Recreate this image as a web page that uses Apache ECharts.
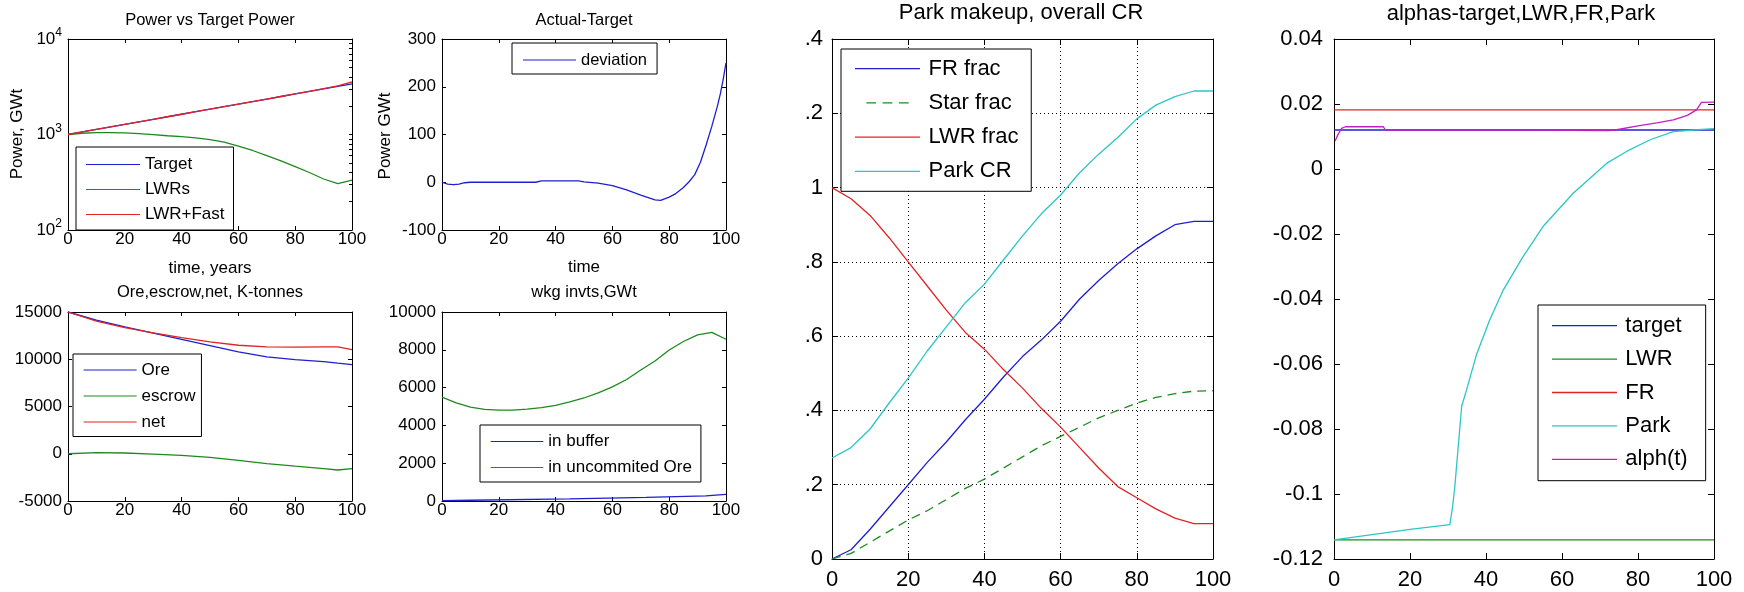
<!DOCTYPE html>
<html><head><meta charset="utf-8">
<script src="https://cdn.jsdelivr.net/npm/echarts@6/dist/echarts.min.js"></script>
<style>html,body{margin:0;padding:0;background:#fff;}#c{width:1744px;height:592px;}</style>
</head><body><div id="c"></div><script>
// ---------- DATA ----------
// Panel 1: Power vs Target Power (log scale)
const powerTime = [0,5,10,15,20,25,30,35,40,45,50,55,60,65,70,75,80,85,90,95,100];
const powerTarget = [1000,1063,1130,1201,1277,1357,1443,1534,1630,1733,1842,1958,2082,2213,2352,2500,2658,2825,3003,3192,3393];
const powerLWRs = [1000,1030,1045,1048,1040,1020,995,970,950,920,885,830,755,680,600,530,462,400,342,306,332];
const powerLWRFast = [1000,1063,1130,1201,1277,1357,1443,1534,1630,1733,1842,1958,2082,2213,2352,2500,2658,2830,3015,3230,3560];
const powerLogTicks = [100,1000,10000];
const powerMinorTicks = [100,200,300,400,500,600,700,800,900,1000,2000,3000,4000,5000,6000,7000,8000,9000,10000];
// Panel 2: Actual-Target
const devTime = [0,2,4,6,8,10,15,20,25,30,33,35,40,45,48,50,55,60,65,70,75,77,80,82,85,87,89,91,93,95,97,98,99,100];
const devValue = [0,-4,-5,-4,-1,0,0,0,0,0,0,3,3,3,3,1,-2,-7,-16,-27,-37,-38,-31,-25,-11,1,16,42,78,117,160,185,215,250];
// Panel 3: Ore, escrow, net
const oreTime = [0,10,20,30,40,50,60,70,80,90,95,100];
const oreValue = [15000,14150,13420,12760,12100,11450,10780,10250,9970,9740,9580,9440];
const escrowValue = [0,120,80,-40,-180,-380,-700,-1050,-1320,-1580,-1720,-1580];
const netValue = [15000,14030,13340,12800,12280,11830,11480,11300,11290,11320,11300,11020];
// Panel 4: wkg invts
const wkgTime = [0,5,10,15,20,25,30,35,40,45,50,55,60,65,70,75,80,85,90,95,100];
const uncommitted = [5500,5190,4970,4850,4810,4810,4860,4940,5060,5240,5450,5720,6040,6430,6930,7410,7990,8440,8790,8920,8560];
const bufferTime = [0,9.9,10,44.9,45,71.9,72,92.9,93,100];
const bufferValue = [20,40,100,110,180,190,260,270,340,350];
// Panel 5: Park makeup, overall CR
const parkTime = [0,5,10,15,20,25,30,35,40,45,50,55,60,65,70,75,80,85,90,95,100];
const frFrac = [0,0.025,0.08,0.14,0.2,0.26,0.315,0.375,0.43,0.49,0.545,0.59,0.64,0.7,0.75,0.795,0.835,0.87,0.9,0.909,0.909];
const starFrac = [0,0.015,0.045,0.075,0.105,0.13,0.16,0.19,0.215,0.245,0.275,0.305,0.33,0.355,0.38,0.4,0.42,0.435,0.445,0.452,0.453];
const lwrFrac = [1.0,0.97,0.925,0.865,0.8,0.735,0.67,0.61,0.565,0.51,0.46,0.405,0.355,0.3,0.245,0.195,0.165,0.135,0.11,0.095,0.095];
const parkCR = [0.272,0.3,0.35,0.42,0.487,0.56,0.625,0.69,0.74,0.805,0.87,0.93,0.98,1.04,1.09,1.135,1.185,1.222,1.245,1.26,1.26];
const parkTickLabels = ['0','.2','.4','.6','.8','1','.2','.4'];
// Panel 6: alphas-target, LWR, FR, Park
const alphaTime = [0,100];
const alphaTarget = [0.012,0.012];
const alphaLWR = [-0.1141,-0.1141];
const alphaFR = [0.0182,0.0182];
const alphaParkTime = [0,10,20,30.5,31.2,31.8,32.7,33.6,34.9,37.5,41,44.6,49.8,55,63,71.8,77,83.2,89.3,94.6,100];
const alphaPark = [-0.1141,-0.1125,-0.1109,-0.1094,-0.104,-0.0977,-0.0853,-0.073,-0.0679,-0.0571,-0.0464,-0.0371,-0.0269,-0.0177,-0.0074,0.0018,0.0054,0.009,0.0115,0.012,0.0124];
const alphTTime = [0.3,1,2,3,13,13.5,53,53.5,72,74,80,85,89.3,93,95.4,96.7,100];
const alphT = [0.0086,0.0105,0.0125,0.013,0.013,0.012,0.012,0.0118,0.0118,0.012,0.0133,0.0142,0.0151,0.0165,0.0182,0.0205,0.0206];
const alphaTickLabels = ['-0.12','-0.1','-0.08','-0.06','-0.04','-0.02','0','0.02','0.04'];

// ---------- STYLE / BUILD ----------
const FF = '"Liberation Sans", Arial, Helvetica, sans-serif';
const COL = {blue:'#1f1fd0', green:'#1e8a1e', red:'#e02424', cyan:'#2cc6c6', magenta:'#c020c0'};
const pairs = (xs, ys) => xs.map((x, i) => [x, ys[i]]);

const grids = [
  {left:68, top:39, width:284, height:191},
  {left:442, top:39, width:284, height:191},
  {left:68, top:312, width:284, height:189},
  {left:442, top:312, width:284, height:189},
  {left:832, top:39, width:381, height:520},
  {left:1334, top:39, width:380, height:520}
];
const fsz = [17,17,17,17,22,22];
const tickLen = [4,4,4,4,6,6];
const xMargin = [1,1,1,1,10,10];
const yMargin = [6,6,6,6,9,11];
const plain = v => String(v);

const xAxes = [], yAxes = [];
const line = {show:true, onZero:false, lineStyle:{color:'#000', width:1}};
grids.forEach((g, i) => {
  const dotted = i === 4;
  xAxes.push({type:'value', gridIndex:i, min:0, max:100, interval:20, position:'bottom',
    axisLine:line, axisTick:{inside:true, length:tickLen[i], lineStyle:{color:'#000'}},
    axisLabel:{color:'#000', fontSize:fsz[i], fontFamily:FF, margin:xMargin[i], hideOverlap:false, formatter:plain},
    splitLine:{show:dotted, lineStyle:{color:'#000', type:[1,3], width:1}}});
  xAxes.push({type:'value', gridIndex:i, min:0, max:100, interval:20, position:'top',
    axisLine:line, axisTick:{inside:true, length:tickLen[i], lineStyle:{color:'#000'}},
    axisLabel:{show:false}, splitLine:{show:false}});
});
function yPair(i, cfg, labelCfg, splitShow) {
  yAxes.push(Object.assign({type:'value', gridIndex:i, position:'left', axisLine:line,
    axisTick:{inside:true, length:tickLen[i], lineStyle:{color:'#000'}},
    axisLabel:Object.assign({color:'#000', fontSize:fsz[i], fontFamily:FF, margin:yMargin[i], hideOverlap:false, formatter:plain}, labelCfg),
    splitLine:{show:!!splitShow, lineStyle:{color:'#000', type:[1,3], width:1}}}, cfg));
  yAxes.push(Object.assign({type:'value', gridIndex:i, position:'right', axisLine:line,
    axisTick:{inside:true, length:tickLen[i], lineStyle:{color:'#000'}},
    axisLabel:{show:false}, splitLine:{show:false}}, cfg));
}
// panel 1 log axis
yAxes.push({type:'log', logBase:10, gridIndex:0, min:100, max:10000, position:'left', axisLine:line,
  axisTick:{inside:true, length:4, lineStyle:{color:'#000'}, customValues:powerLogTicks},
  axisLabel:{color:'#000', fontFamily:FF, margin:6, customValues:powerLogTicks,
    formatter: v => '{b|10}{s|' + Math.round(Math.log10(v)) + '}',
    rich:{b:{fontSize:17, fontFamily:FF, color:'#000'}, s:{fontSize:12, fontFamily:FF, color:'#000', padding:[0,0,12,0]}}},
  splitLine:{show:false}});
yAxes.push({type:'log', logBase:10, gridIndex:0, min:100, max:10000, position:'right', axisLine:line,
  axisTick:{inside:true, length:3, lineStyle:{color:'#000'}, customValues:powerMinorTicks},
  axisLabel:{show:false}, splitLine:{show:false}});
yPair(1, {min:-100, max:300, interval:100}, {});
yPair(2, {min:-5000, max:15000, interval:5000}, {});
yPair(3, {min:0, max:10000, interval:2000}, {});
yPair(4, {min:0, max:1.4, interval:0.2}, {formatter: v => parkTickLabels[Math.round(v / 0.2)]}, true);
yPair(5, {min:-0.12, max:0.04, interval:0.02}, {formatter: v => alphaTickLabels[Math.round((v + 0.12) / 0.02)]});

const series = [];
function addLine(gi, name, xs, ys, color, dashed) {
  series.push({type:'line', name, xAxisIndex:2*gi, yAxisIndex:2*gi, data:pairs(xs, ys),
    symbol:'none', showSymbol:false, animation:false, silent:true,
    lineStyle:{color, width:1.3, type: dashed ? [9,6] : 'solid'}, itemStyle:{color}});
}
addLine(0, 'Target', powerTime, powerTarget, COL.blue);
addLine(0, 'LWRs', powerTime, powerLWRs, COL.green);
addLine(0, 'LWR+Fast', powerTime, powerLWRFast, COL.red);
addLine(1, 'deviation', devTime, devValue, COL.blue);
addLine(2, 'Ore', oreTime, oreValue, COL.blue);
addLine(2, 'escrow', oreTime, escrowValue, COL.green);
addLine(2, 'net', oreTime, netValue, COL.red);
addLine(3, 'in buffer', bufferTime, bufferValue, COL.blue);
addLine(3, 'in uncommited Ore', wkgTime, uncommitted, COL.green);
addLine(4, 'FR frac', parkTime, frFrac, COL.blue);
addLine(4, 'Star frac', parkTime, starFrac, COL.green, true);
addLine(4, 'LWR frac', parkTime, lwrFrac, COL.red);
addLine(4, 'Park CR', parkTime, parkCR, COL.cyan);
addLine(5, 'target', alphaTime, alphaTarget, COL.blue);
addLine(5, 'LWR', alphaTime, alphaLWR, COL.green);
addLine(5, 'FR', alphaTime, alphaFR, COL.red);
addLine(5, 'Park', alphaParkTime, alphaPark, COL.cyan);
addLine(5, 'alph(t)', alphTTime, alphT, COL.magenta);

const SOLID = 'path://M0,0H100V2H0Z';
const DASH = 'path://M0,0H15V2H0Z M25,0H40V2H25Z M50,0H65V2H50Z';
function leg(names, left, top, pad, itemWidth, gap, fs, icons) {
  return {orient:'vertical', left, top, padding:pad, itemWidth, itemHeight:1.3, itemGap:gap,
    borderColor:'#000', borderWidth:1, backgroundColor:'#fff', selectedMode:false,
    textStyle:{color:'#000', fontSize:fs, fontFamily:FF, lineHeight:fs},
    data:names.map((n, k) => ({name:n, icon:(icons && icons[k]) || SOLID}))};
}
const legends = [
  leg(['Target','LWRs','LWR+Fast'], 76, 147, [9,9,7,10], 54, 8, 17),
  leg(['deviation'], 512, 43, [8.5,10,5.5,11], 53, 8, 16.5),
  leg(['Ore','escrow','net'], 73, 354, [7.5,6,6,10.6], 53, 9, 17),
  leg(['in buffer','in uncommited Ore'], 480, 425, [8,9,6,10.7], 52.6, 9, 17),
  leg(['FR frac','Star frac','LWR frac','Park CR'], 841, 49, [8.7,12.7,9,14], 72, 12.2, 22, [null, DASH]),
  leg(['target','LWR','FR','Park','alph(t)'], 1538, 305, [9.7,18,10.4,14], 71.6, 11.4, 22)
];

function txt(text, x, y, fs, rot) {
  return {type:'text', x, y, rotation: rot || 0, silent:true,
    style:{text, fill:'#000', font: fs + 'px ' + FF, align:'center', verticalAlign:'middle'}};
}
const graphics = [
  txt('Power vs Target Power', 210, 20, 16.5),
  txt('Actual-Target', 584, 20, 16.5),
  txt('Ore,escrow,net, K-tonnes', 210, 292, 16.5),
  txt('wkg invts,GWt', 584, 292, 16.5),
  txt('Park makeup, overall CR', 1021, 13, 22),
  txt('alphas-target,LWR,FR,Park', 1521, 14, 22),
  txt('time, years', 210, 268, 17),
  txt('time', 584, 267, 17),
  txt('Power, GWt', 17, 134, 17, Math.PI / 2),
  txt('Power GWt', 385, 136, 17, Math.PI / 2)
];

const chart = echarts.init(document.getElementById('c'), null, {renderer:'canvas'});
chart.setOption({
  backgroundColor:'#fff', animation:false,
  grid: grids.map(g => Object.assign({show:false, containLabel:false}, g)),
  xAxis:xAxes, yAxis:yAxes, series, legend:legends, graphic:graphics
});
</script></body></html>
